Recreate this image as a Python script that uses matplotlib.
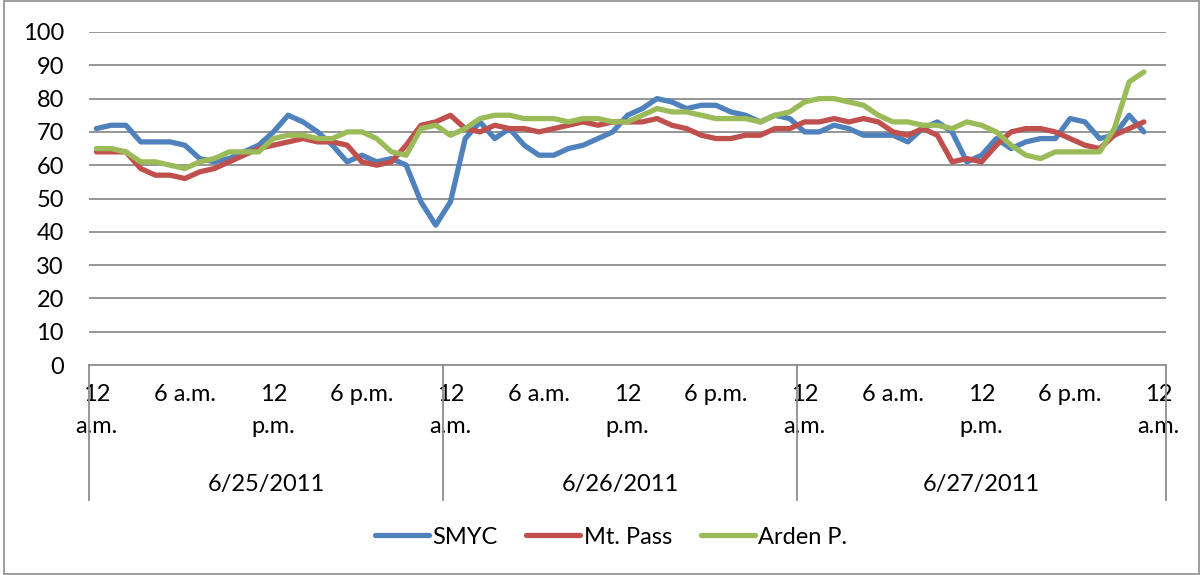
import matplotlib.pyplot as plt
from matplotlib.patches import Rectangle

plt.rcParams['font.family'] = ['Lato', 'DejaVu Sans']

# hourly readings, 12 a.m. 6/25 through 11 p.m. 6/27
smyc = [71, 72, 72, 67, 67, 67, 66, 62, 61, 62, 64, 66, 70, 75, 73, 70, 66, 61, 63, 61, 62, 60, 49, 42,
        49, 68, 73, 68, 71, 66, 63, 63, 65, 66, 68, 70, 75, 77, 80, 79, 77, 78, 78, 76, 75, 73, 75, 74,
        70, 70, 72, 71, 69, 69, 69, 67, 71, 73, 70, 61, 63, 68, 65, 67, 68, 68, 74, 73, 68, 69, 75, 70]
mt_pass = [64, 64, 64, 59, 57, 57, 56, 58, 59, 61, 63, 65, 66, 67, 68, 67, 67, 66, 61, 60, 61, 66, 72, 73,
           75, 71, 70, 72, 71, 71, 70, 71, 72, 73, 72, 73, 73, 73, 74, 72, 71, 69, 68, 68, 69, 69, 71, 71,
           73, 73, 74, 73, 74, 73, 70, 69, 71, 69, 61, 62, 61, 66, 70, 71, 71, 70, 68, 66, 65, 69, 71, 73]
arden = [65, 65, 64, 61, 61, 60, 59, 61, 62, 64, 64, 64, 68, 69, 69, 68, 68, 70, 70, 68, 64, 63, 71, 72,
         69, 71, 74, 75, 75, 74, 74, 74, 73, 74, 74, 73, 73, 75, 77, 76, 76, 75, 74, 74, 74, 73, 75, 76,
         79, 80, 80, 79, 78, 75, 73, 73, 72, 72, 71, 73, 72, 70, 66, 63, 62, 64, 64, 64, 64, 71, 85, 88]

series_names = ['SMYC', 'Mt. Pass', 'Arden P.']
colors = ['#4F81BD', '#C0504D', '#9BBB59']
dates = ['6/25/2011', '6/26/2011', '6/27/2011']
day_sizes = [24, 24, 25]
hour_labels = ['12\na.m.', '6 a.m.', '12\np.m.', '6 p.m.'] * 3 + ['12\na.m.']
n_cat = sum(day_sizes)

W, H = 1203, 575
fig = plt.figure(figsize=(W / 100, H / 100), dpi=100)
ax = fig.add_axes([89 / W, 1 - 365 / H, (1166 - 89) / W, (365 - 32) / H])

grid_color = '#8C8C8C'
for v in range(10, 101, 10):
    ax.axhline(v, color=grid_color, lw=1.3, zorder=1)
ax.axhline(0, color=grid_color, lw=1.3, zorder=1, clip_on=False)

x = list(range(len(smyc)))
for data, name, c in zip([smyc, mt_pass, arden], series_names, colors):
    ax.plot(x, data, color=c, lw=3.8, label=name, zorder=3,
            solid_joinstyle='round', solid_capstyle='round')

ax.set_xlim(-0.5, n_cat - 0.5)
ax.set_ylim(0, 100)
ax.set_yticks(range(0, 101, 10))
ax.tick_params(axis='y', length=0, pad=18, labelsize=17)
ax.set_xticks(range(0, n_cat, 6))
ax.set_xticklabels(hour_labels, linespacing=1.65, va='top')
ax.tick_params(axis='x', length=0, pad=14, labelsize=17)
for s in ax.spines.values():
    s.set_visible(False)

# date group separators and labels under the hour labels
trans = ax.get_xaxis_transform()
edges = [-0.5]
for n in day_sizes:
    edges.append(edges[-1] + n)
sep_bottom = -(500 - 365) / (365 - 32)
for e in edges:
    ax.plot([e, e], [0, sep_bottom], color=grid_color, lw=1.3, transform=trans, clip_on=False)
for i, d in enumerate(dates):
    ax.text((edges[i] + edges[i + 1]) / 2, -(485 - 365) / (365 - 32), d, transform=trans,
            ha='center', va='center', fontsize=17)

fig.legend(loc='center', bbox_to_anchor=(611 / W, 1 - 537 / H), ncol=3, frameon=False,
           fontsize=17, handlelength=2.3, handletextpad=0.15, columnspacing=1.2)

fig.patches.append(Rectangle((0.003, 0.002), 0.994, 0.996, transform=fig.transFigure,
                             fill=False, edgecolor='#8C8C8C', lw=1.2))

fig.savefig('out.png', dpi=100)
